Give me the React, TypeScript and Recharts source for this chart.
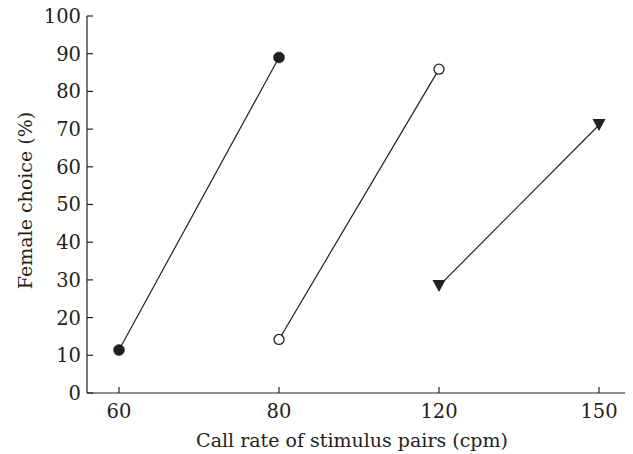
import React from 'react';
import { LineChart, Line, XAxis, YAxis } from 'recharts';

const categories = ['60', '80', '120', '150'];
const seriesFilled = [11.4, 89.0, null, null];
const seriesOpen = [null, 14.2, 85.9, null];
const seriesTriangle = [null, null, 28.4, 71.1];
const yTicks = [0, 10, 20, 30, 40, 50, 60, 70, 80, 90, 100];

const data = categories.map((c, i) => ({
  rate: c,
  filled: seriesFilled[i],
  open: seriesOpen[i],
  tri: seriesTriangle[i],
}));

const INK = '#231f20';
const FONT = '"DejaVu Serif", serif';

const TriangleDot = (props: any) => {
  const { cx, cy, index } = props;
  if (cx == null || cy == null || isNaN(cx) || isNaN(cy)) return <g key={`t-${index}`} />;
  const w = 6.5;
  const h = 12;
  return (
    <path
      key={`t-${index}`}
      d={`M${cx - w},${cy - h / 2} L${cx + w},${cy - h / 2} L${cx},${cy + h / 2} Z`}
      fill={INK}
      stroke="none"
    />
  );
};

export default function App() {
  return (
    <div style={{ marginLeft: -8, marginTop: -8, width: 633, height: 454, background: '#fff' }}>
      <LineChart width={633} height={454} data={data} margin={{ top: 16, right: 2, left: 0, bottom: 0 }}>
        <XAxis
          dataKey="rate"
          type="category"
          scale="point"
          padding={{ left: 32, right: 32 }}
          height={61}
          tickSize={-6}
          tickMargin={17}
          axisLine={{ stroke: INK, strokeWidth: 1.2 }}
          tickLine={{ stroke: INK, strokeWidth: 1.2 }}
          tick={{ fill: INK, fontSize: 19.5, fontFamily: FONT }}
          label={{ value: 'Call rate of stimulus pairs (cpm)', position: 'insideBottom', offset: 7, dx: -7, fill: INK, fontSize: 19, fontFamily: FONT }}
        />
        <XAxis
          xAxisId="top"
          dataKey="rate"
          type="category"
          scale="point"
          orientation="top"
          height={0}
          tick={false}
          tickLine={false}
          axisLine={{ stroke: INK, strokeWidth: 1.2 }}
        />
        <YAxis
          type="number"
          domain={[0, 100]}
          ticks={yTicks}
          interval={0}
          width={87}
          tickSize={-6}
          tickMargin={12}
          axisLine={{ stroke: INK, strokeWidth: 1.2 }}
          tickLine={{ stroke: INK, strokeWidth: 1.2 }}
          tick={{ fill: INK, fontSize: 19.5, fontFamily: FONT }}
          label={{ value: 'Female choice (%)', angle: -90, position: 'insideLeft', offset: 25, dy: -4, fill: INK, fontSize: 19, fontFamily: FONT, style: { textAnchor: 'middle' } }}
        />
        <YAxis
          yAxisId="right"
          orientation="right"
          type="number"
          domain={[0, 100]}
          width={0}
          tick={false}
          tickLine={false}
          axisLine={{ stroke: INK, strokeWidth: 1.2 }}
        />
        <Line
          dataKey="filled"
          stroke={INK}
          strokeWidth={1.2}
          connectNulls={false}
          isAnimationActive={false}
          dot={{ r: 5.5, fill: INK, stroke: INK, strokeWidth: 0.5 }}
          activeDot={false}
        />
        <Line
          dataKey="open"
          stroke={INK}
          strokeWidth={1.2}
          connectNulls={false}
          isAnimationActive={false}
          dot={{ r: 5, fill: '#fff', stroke: INK, strokeWidth: 1.3 }}
          activeDot={false}
        />
        <Line
          dataKey="tri"
          stroke={INK}
          strokeWidth={1.2}
          connectNulls={false}
          isAnimationActive={false}
          dot={TriangleDot}
          activeDot={false}
        />
      </LineChart>
    </div>
  );
}
